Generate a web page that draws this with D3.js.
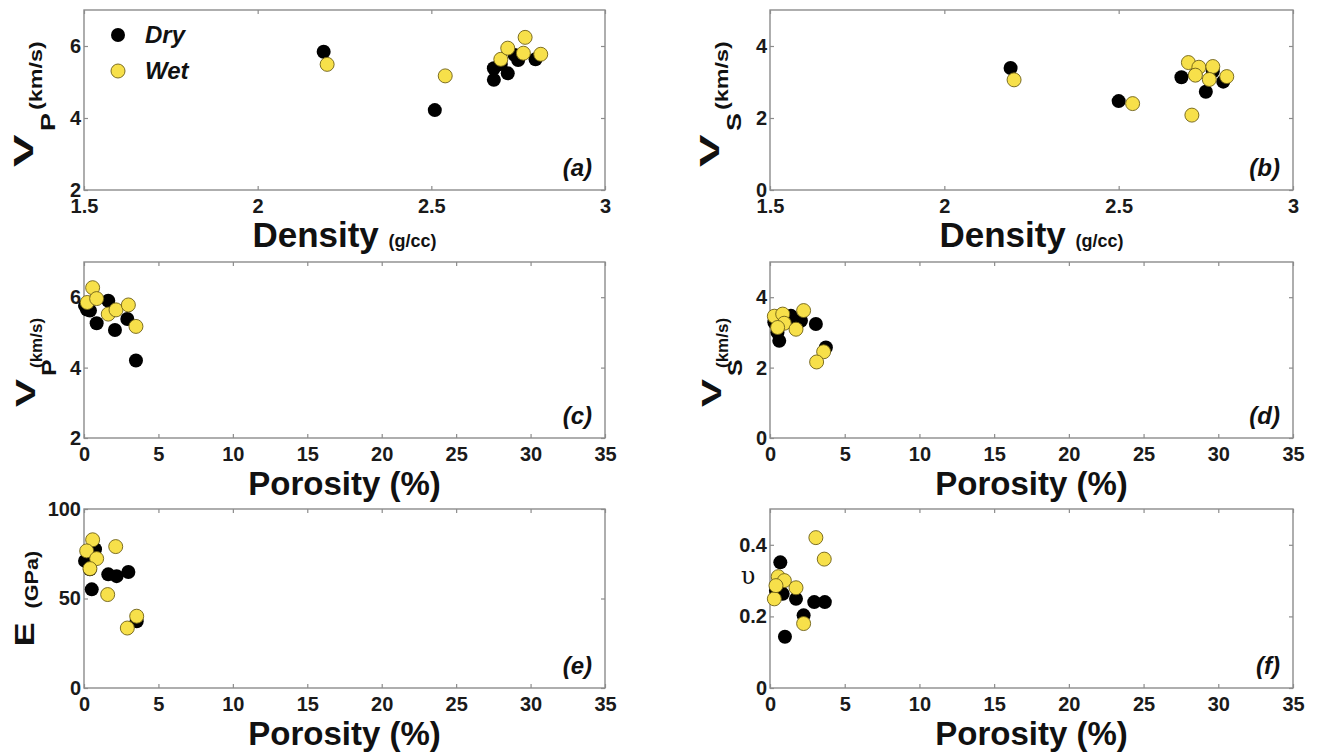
<!DOCTYPE html>
<html><head><meta charset="utf-8">
<script src="https://cdn.jsdelivr.net/npm/d3@7"></script>
<style>
html,body{margin:0;padding:0;background:#fff;}
svg{display:block;}
</style></head>
<body>
<svg id="chart" width="1319" height="752"></svg>
<script>
// ---- data ----
const densityTicks = [1.5, 2, 2.5, 3];
const porosityTicks = [0, 5, 10, 15, 20, 25, 30, 35];
const vpTicks = [2, 4, 6];
const vsTicks = [0, 2, 4];
const eTicks = [0, 50, 100];
const nuTicks = [0, 0.2, 0.4];

// (a) Vp vs density
const aDry = [[2.19,5.84],[2.51,4.22],[2.68,5.38],[2.68,5.06],[2.72,5.24],[2.75,5.61],[2.80,5.63],[2.74,5.75],[2.70,5.50]];
const aWet = [[2.20,5.49],[2.54,5.17],[2.70,5.63],[2.72,5.94],[2.77,6.24],[2.765,5.80],[2.815,5.77]];
// (b) Vs vs density
const bDry = [[2.19,3.39],[2.50,2.47],[2.68,3.13],[2.75,2.73],[2.80,3.01],[2.72,3.20],[2.77,3.30]];
const bWet = [[2.20,3.06],[2.54,2.40],[2.70,3.54],[2.73,3.41],[2.77,3.43],[2.72,3.19],[2.76,3.07],[2.81,3.15],[2.71,2.08]];
// (c) Vp vs porosity
const cDry = [[0.07,5.76],[0.40,5.62],[0.85,5.26],[1.63,5.90],[2.08,5.07],[2.91,5.38],[3.49,4.20],[0.20,5.65]];
const cWet = [[0.58,6.27],[0.22,5.85],[0.85,5.96],[1.63,5.52],[2.15,5.64],[2.98,5.78],[3.49,5.17]];
// (d) Vs vs porosity
const dDry = [[0.62,2.76],[1.40,3.47],[2.07,3.33],[3.07,3.24],[3.74,2.57],[0.29,3.29],[0.50,3.00],[1.70,3.20]];
const dWet = [[0.29,3.46],[0.85,3.52],[0.95,3.26],[0.51,3.14],[1.74,3.09],[2.25,3.62],[3.59,2.45],[3.12,2.16]];
// (e) E vs porosity
const eDry = [[0.07,71.0],[0.52,55.1],[1.63,63.5],[2.19,62.5],[2.98,64.8],[3.54,37.3],[0.40,66.3],[0.74,77.5]];
const eWet = [[0.58,82.8],[2.13,79.0],[0.18,76.6],[0.85,72.3],[0.40,66.7],[1.59,52.2],[3.54,40.1],[2.91,33.5]];
// (f) Poisson's ratio vs porosity
const fDry = [[0.69,0.351],[0.40,0.272],[1.74,0.249],[2.96,0.240],[3.67,0.240],[2.25,0.203],[1.00,0.143],[0.85,0.263]];
const fWet = [[3.07,0.420],[3.63,0.360],[0.55,0.311],[0.96,0.300],[1.74,0.280],[0.29,0.249],[2.25,0.180],[0.40,0.286]];

const seriesNames = ["Dry", "Wet"];

// ---- styles ----
const DRY_FILL = "#000000";
const WET_FILL = "#f7e04a";
const WET_STROKE = "#6e6016";
const FRAME = "#8c8c8c";
const FONT = "'Liberation Sans', Arial, Helvetica, sans-serif";
const R = 7;

const svg = d3.select("#chart");

const colL = {left: 84, right: 605};
const colR = {left: 770, right: 1293};
const rows = [{top: 10, bottom: 190}, {top: 262, bottom: 438}, {top: 509, bottom: 688}];

const panels = [
  {col: colL, row: rows[0], xd: [1.5, 3], yd: [2, 7], xt: densityTicks, yt: vpTicks, dry: aDry, wet: aWet, tag: "(a)", xlab: "density", ylab: "vp", legend: true},
  {col: colR, row: rows[0], xd: [1.5, 3], yd: [0, 5], xt: densityTicks, yt: vsTicks, dry: bDry, wet: bWet, tag: "(b)", xlab: "density", ylab: "vs"},
  {col: colL, row: rows[1], xd: [0, 35], yd: [2, 7], xt: porosityTicks, yt: vpTicks, dry: cDry, wet: cWet, tag: "(c)", xlab: "porosity", ylab: "vp"},
  {col: colR, row: rows[1], xd: [0, 35], yd: [0, 5], xt: porosityTicks, yt: vsTicks, dry: dDry, wet: dWet, tag: "(d)", xlab: "porosity", ylab: "vs"},
  {col: colL, row: rows[2], xd: [0, 35], yd: [0, 100], xt: porosityTicks, yt: eTicks, dry: eDry, wet: eWet, tag: "(e)", xlab: "porosity", ylab: "e"},
  {col: colR, row: rows[2], xd: [0, 35], yd: [0, 0.5], xt: porosityTicks, yt: nuTicks, dry: fDry, wet: fWet, tag: "(f)", xlab: "porosity", ylab: "nu"}
];

function rotPiece(g, x, y, str, size, sx, italic) {
  g.append("text")
    .attr("transform", `translate(${x},${y}) rotate(-90) scale(${sx},1)`)
    .attr("font-family", FONT)
    .attr("font-weight", "bold")
    .attr("font-style", italic ? "italic" : "normal")
    .attr("font-size", size)
    .attr("fill", "#111")
    .text(str);
}

panels.forEach(p => {
  const L = p.col.left, Rr = p.col.right, T = p.row.top, B = p.row.bottom;
  const x = d3.scaleLinear().domain(p.xd).range([L, Rr]);
  const y = d3.scaleLinear().domain(p.yd).range([B, T]);
  const g = svg.append("g");

  // frame
  g.append("rect").attr("x", L).attr("y", T).attr("width", Rr - L).attr("height", B - T)
    .attr("fill", "none").attr("stroke", FRAME).attr("stroke-width", 1.4);

  const fmt = d => String(d);
  const styleAxis = sel => {
    sel.select(".domain").remove();
    sel.selectAll(".tick line").attr("stroke", FRAME).attr("stroke-width", 1.2);
    sel.selectAll(".tick text").attr("font-family", FONT).attr("font-weight", "bold")
      .attr("font-size", 20).attr("fill", "#1a1a1a");
  };
  g.append("g").attr("transform", `translate(0,${B})`)
    .call(d3.axisBottom(x).tickValues(p.xt).tickFormat(fmt).tickSizeInner(-4).tickSizeOuter(0).tickPadding(9))
    .call(styleAxis);
  g.append("g").attr("transform", `translate(0,${T})`)
    .call(d3.axisTop(x).tickValues(p.xt).tickFormat("").tickSizeInner(-4).tickSizeOuter(0))
    .call(styleAxis);
  g.append("g").attr("transform", `translate(${L},0)`)
    .call(d3.axisLeft(y).tickValues(p.yt).tickFormat(fmt).tickSizeInner(-4).tickSizeOuter(0).tickPadding(3))
    .call(styleAxis);
  g.append("g").attr("transform", `translate(${Rr},0)`)
    .call(d3.axisRight(y).tickValues(p.yt).tickFormat("").tickSizeInner(-4).tickSizeOuter(0))
    .call(styleAxis);

  // points
  g.append("g").selectAll("circle").data(p.dry).join("circle")
    .attr("cx", d => x(d[0])).attr("cy", d => y(d[1])).attr("r", R)
    .attr("fill", DRY_FILL);
  g.append("g").selectAll("circle").data(p.wet).join("circle")
    .attr("cx", d => x(d[0])).attr("cy", d => y(d[1])).attr("r", R)
    .attr("fill", WET_FILL).attr("stroke", WET_STROKE).attr("stroke-width", 0.9);

  // panel tag
  g.append("text").attr("x", Rr - 13).attr("y", B - 14).attr("text-anchor", "end")
    .attr("font-family", FONT).attr("font-weight", "bold").attr("font-style", "italic")
    .attr("font-size", 24).attr("fill", "#111").text(p.tag);

  // x label
  const cx = (L + Rr) / 2;
  const xl = g.append("text").attr("x", cx).attr("y", B + 57).attr("text-anchor", "middle")
    .attr("font-family", FONT).attr("font-weight", "bold").attr("fill", "#111");
  if (p.xlab === "density") {
    xl.append("tspan").attr("font-size", 35).text("Density ");
    xl.append("tspan").attr("font-size", 18).text("(g/cc)");
  } else {
    xl.append("tspan").attr("font-size", 33).text("Porosity (%)");
  }

  // y label
  const cy = (T + B) / 2;
  const tall = p.row === rows[0];
  if (p.ylab === "vp" || p.ylab === "vs") {
    const sub = p.ylab === "vp" ? "P" : "S";
    if (tall) {
      rotPiece(g, L - 51, cy + 67, "V", 28, 1.75);
      rotPiece(g, L - 29, cy + 31, sub, 20, 1.35);
      rotPiece(g, L - 42, cy + 10, "(km/s)", 18, 1.3);
    } else {
      rotPiece(g, L - 49, cy + 57, "V", 28, 1.5);
      rotPiece(g, L - 28, cy + 26, sub, 20, 1.25);
      rotPiece(g, L - 42, cy + 18, "(km/s)", 17, 1.0);
    }
  } else if (p.ylab === "e") {
    rotPiece(g, L - 50, cy + 48, "E", 28, 1.3);
    rotPiece(g, L - 46, cy + 10, "(GPa)", 18, 1.2);
  } else {
    g.append("text").attr("x", L - 22).attr("y", cy - 15).attr("text-anchor", "middle")
      .attr("font-family", "'DejaVu Serif', 'Liberation Serif', serif").attr("font-size", 24)
      .attr("fill", "#111").text("υ");
  }

  // legend
  if (p.legend) {
    const lg = g.append("g");
    seriesNames.forEach((name, i) => {
      const ly = T + 25 + i * 36;
      lg.append("circle").attr("cx", L + 34).attr("cy", ly).attr("r", R)
        .attr("fill", i === 0 ? DRY_FILL : WET_FILL)
        .attr("stroke", i === 0 ? "none" : WET_STROKE).attr("stroke-width", 0.9);
      lg.append("text").attr("x", L + 61).attr("y", ly + 8)
        .attr("font-family", FONT).attr("font-weight", "bold").attr("font-style", "italic")
        .attr("font-size", 24).attr("fill", "#111").text(name);
    });
  }
});
</script>
</body></html>
